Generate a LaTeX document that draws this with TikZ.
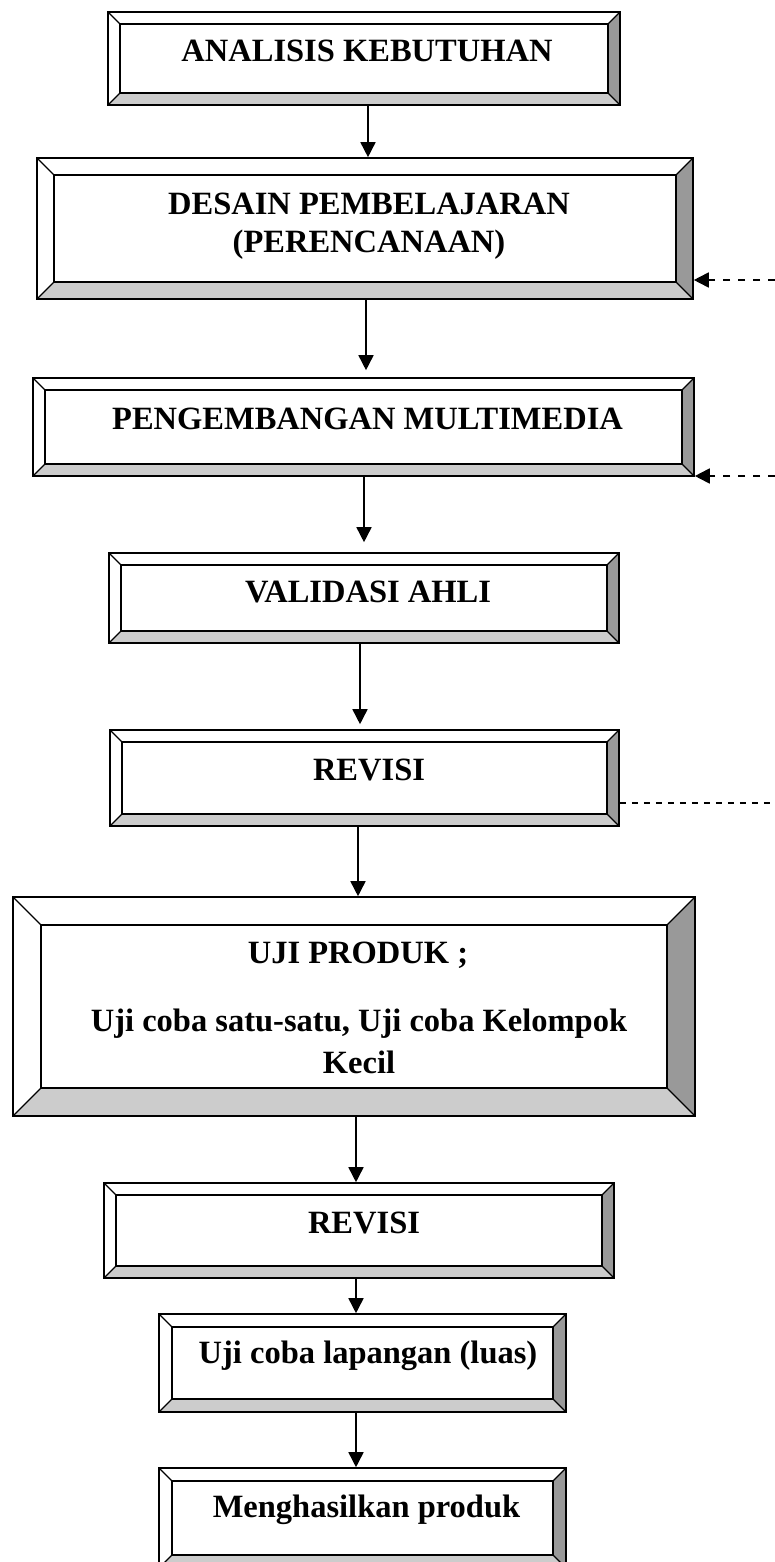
\documentclass[tikz,border=0pt]{standalone}
\usepackage{fontspec}
\setmainfont{Liberation Serif}
\usetikzlibrary{arrows.meta,calc}
\definecolor{bevdark}{HTML}{999999}
\definecolor{bevlight}{HTML}{CCCCCC}
\tikzset{
  bevbox/.style={draw, line width=1.6pt, fill=white, rectangle, inner sep=0pt,
    path picture={
      \path (path picture bounding box.south west) coordinate (bSW)
            (path picture bounding box.north east) coordinate (bNE)
            (path picture bounding box.south east) coordinate (bSE)
            (path picture bounding box.north west) coordinate (bNW);
      \fill[bevdark] (bSE) -- (bNE) -- ++(-#1,-#1) -- ($(bSE)+(-#1,#1)$) -- cycle;
      \fill[bevlight] (bSW) -- (bSE) -- ++(-#1,#1) -- ($(bSW)+(#1,#1)$) -- cycle;
      \draw[line width=1.6pt] ($(bSW)+(#1,#1)$) rectangle ($(bNE)+(-#1,-#1)$);
      \draw[line width=1.2pt] (bSW) -- ++(#1,#1) (bSE) -- ++(-#1,#1)
            (bNE) -- ++(-#1,-#1) (bNW) -- ++(#1,-#1);
    }},
  lbl/.style={anchor=base, inner sep=0pt, font=\bfseries\fontsize{32.5pt}{38pt}\selectfont},
  arr/.style={line width=1.6pt, -{Triangle[length=15pt,width=15pt]}},
  dasharr/.style={line width=1.8pt, dash pattern=on 7pt off 8pt, -{Triangle[length=15pt,width=15pt]}},
  dashln/.style={line width=1.5pt, dash pattern=on 6pt off 6pt},
}
\begin{document}
\begin{tikzpicture}[x=1pt,y=1pt]
\useasboundingbox (0,0) rectangle (775,-1562);
\clip (0,0) rectangle (775,-1562);
\fill[white] (0,0) rectangle (775,-1562);

% boxes
\node[bevbox=12, minimum width=512pt, minimum height=93pt]  (b1) at (364,-58.5) {};
\node[bevbox=17, minimum width=656pt, minimum height=141pt] (b2) at (365,-228.5) {};
\node[bevbox=12, minimum width=661pt, minimum height=98pt]  (b3) at (363.5,-427) {};
\node[bevbox=12, minimum width=510pt, minimum height=90pt]  (b4) at (364,-598) {};
\node[bevbox=12, minimum width=509pt, minimum height=96pt]  (b5) at (364.5,-778) {};
\node[bevbox=28, minimum width=682pt, minimum height=219pt] (b6) at (354,-1006.5) {};
\node[bevbox=12, minimum width=510pt, minimum height=95pt]  (b7) at (359,-1230.5) {};
\node[bevbox=13, minimum width=407pt, minimum height=98pt]  (b8) at (362.5,-1363) {};
\node[bevbox=13, minimum width=407pt, minimum height=100pt] (b9) at (362.5,-1518) {};

% texts
\node[lbl] (t1)  at (367,-62)   {ANALISIS KEBUTUHAN};
\node[lbl] (t2a) at (369,-215)  {DESAIN PEMBELAJARAN};
\node[lbl] (t2b) at (369,-252)  {(PERENCANAAN)};
\node[lbl] (t3)  at (367.5,-429) {PENGEMBANGAN MULTIMEDIA};
\node[lbl] (t4)  at (368,-602)  {VALIDASI AHLI};
\node[lbl] (t5)  at (369,-780)  {REVISI};
\node[lbl] (t6a) at (358,-963)  {UJI PRODUK ;};
\node[lbl] (t6b) at (359,-1031) {Uji coba satu-satu, Uji coba Kelompok};
\node[lbl] (t6c) at (359,-1073) {Kecil};
\node[lbl] (t7)  at (364,-1233) {REVISI};
\node[lbl] (t8)  at (368,-1363) {Uji coba lapangan (luas)};
\node[lbl] (t9)  at (366.5,-1517) {Menghasilkan produk};

% arrows
\draw[arr] ($(b1.south)+(4,0)$) -- ($(b2.north)+(3,0)$);
\draw[arr] ($(b2.south)+(1,0)$) -- ($(b3.north)+(2.5,7)$);
\draw[arr] ($(b3.south)+(0.5,0)$) -- ($(b4.north)+(0,10)$);
\draw[arr] ($(b4.south)+(-4,0)$) -- ($(b5.north)+(-4.5,5)$);
\draw[arr] ($(b5.south)+(-6.5,0)$) -- ($(b6.north)+(4,0)$);
\draw[arr] ($(b6.south)+(2,0)$) -- ($(b7.north)+(-3,0)$);
\draw[arr] ($(b7.south)+(-3,0)$) -- ($(b8.north)+(-6.5,0)$);
\draw[arr] ($(b8.south)+(-6.5,0)$) -- ($(b9.north)+(-6.5,0)$);

% dashed feedback lines
\coordinate (e1) at (790,-280);
\coordinate (e2) at (790,-476);
\coordinate (e3) at (790,-803);
\draw[dasharr] (e1) -- (b2.east |- e1);
\draw[dasharr] (e2) -- (b3.east |- e2);
\draw[dashln] (b5.east |- e3) -- (e3);
\end{tikzpicture}
\end{document}
